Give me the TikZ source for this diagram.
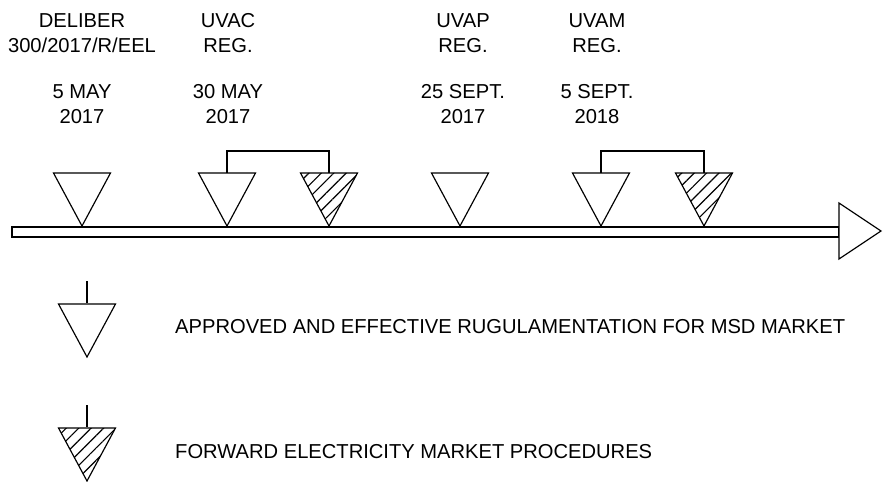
\documentclass[tikz,border=0pt]{standalone}
\usepackage{fontspec}
\setmainfont{Liberation Sans}
\usetikzlibrary{patterns.meta}

\tikzset{
  evt/.style={line width=1pt, fill=white},
  fwd/.style={line width=1pt, fill=white, postaction={pattern={Lines[angle=45,distance=7.5pt,line width=1pt]}}},
  lbl/.style={align=center, inner sep=0pt},
}
% downward triangle with apex at #2
\newcommand{\tridown}[2]{\draw[#1] (#2) -- ++(-28.5,-53) -- ++(57,0) -- cycle;}

\begin{document}
\begin{tikzpicture}[x=0.03cm, y=-0.03cm, line join=miter, font=\fontsize{17.2}{21.5}\selectfont]
		\useasboundingbox (0,0) rectangle (883,482);
		% time line
		\coordinate (S) at (12,227);
		\coordinate (E) at (839,237);
		\coordinate (T) at (881,231);
		\draw[line width=1pt] (S) rectangle (E);
		\draw[evt] (839,203) -- (T) -- (839,259) -- cycle;
		% events
		\coordinate (A) at (82,226);
		\coordinate (B) at (227,226);
		\coordinate (C) at (329,226);
		\coordinate (D) at (460,226);
		\coordinate (F) at (601,226);
		\coordinate (G) at (704,226);
		\coordinate (Bt) at (227,173);
		\coordinate (Ct) at (329,173);
		\coordinate (Ft) at (601,173);
		\coordinate (Gt) at (704,173);
		\tridown{evt}{A}
		\tridown{evt}{B}
		\tridown{fwd}{C}
		\tridown{evt}{D}
		\tridown{evt}{F}
		\tridown{fwd}{G}
		\draw[line width=1pt] (Bt) -- ++(0,-22) -| (Ct);
		\draw[line width=1pt] (Ft) -- ++(0,-22) -| (Gt);
		% labels
		\node[lbl] (tA) at (82,33) {DELIBER\\300/2017/R/EEL};
		\node[lbl] (dA) at (82,104) {5 MAY\\2017};
		\node[lbl] (tB) at (228,33) {UVAC\\REG.};
		\node[lbl] (dB) at (228,104) {30 MAY\\2017};
		\node[lbl] (tD) at (463,33) {UVAP\\REG.};
		\node[lbl] (dD) at (463,104) {25 SEPT.\\2017};
		\node[lbl] (tF) at (597,33) {UVAM\\REG.};
		\node[lbl] (dF) at (597,104) {5 SEPT.\\2018};
		% legend
		\coordinate (L1) at (87,357);
		\coordinate (L2) at (87,481);
		\coordinate (s1) at (87,303);
		\coordinate (s2) at (87,427);
		\tridown{evt}{L1}
		\tridown{fwd}{L2}
		\draw[line width=1pt] (s1) -- ++(0,-22);
		\draw[line width=1pt] (s2) -- ++(0,-22);
		\node[lbl, anchor=west] (k1) at (175,327) {APPROVED AND EFFECTIVE RUGULAMENTATION FOR MSD MARKET};
		\node[lbl, anchor=west] (k2) at (175,452) {FORWARD ELECTRICITY MARKET PROCEDURES};
\end{tikzpicture}
\end{document}
